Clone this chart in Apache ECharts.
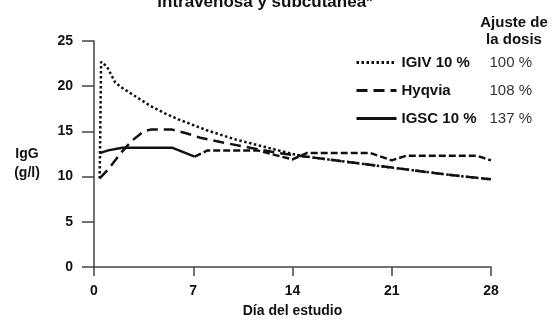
<!DOCTYPE html>
<html>
<head>
<meta charset="utf-8">
<script src="https://cdn.jsdelivr.net/npm/echarts@6/dist/echarts.min.js"></script>
<style>
  html, body { margin: 0; padding: 0; background: #fff; }
  #chart { width: 552px; height: 320px; }
</style>
</head>
<body>
<div id="chart"></div>
<script>
// niveles de IgG por día del estudio
var seriesNames = ['IGIV 10 %', 'Hyqvia', 'IGSC 10 %'];
var dosePct = ['100 %', '108 %', '137 %'];
var xTicks = [0, 7, 14, 21, 28];

var igivData = [[0.4, 9.8], [0.5, 22.7], [0.9, 22.2], [1.5, 20.4], [2, 19.8], [3, 18.8], [4, 17.8],
  [5, 17.0], [6, 16.3], [7, 15.7], [8, 15.1], [9, 14.6], [10, 14.1], [11, 13.7], [12, 13.3],
  [13, 12.9], [14, 12.5], [15, 12.2], [17, 11.8], [19, 11.4], [21, 11.0], [23, 10.6], [25, 10.2], [28, 9.7]];
var hyqviaData = [[0.4, 9.8], [1, 10.8], [1.5, 11.8], [2, 12.8], [2.7, 14.0], [3.5, 15.0], [4, 15.2],
  [5.5, 15.2], [6.5, 14.8], [7.5, 14.3], [9, 13.8], [11, 13.2], [13, 12.6], [14, 12.4], [15, 12.2],
  [17, 11.8], [19, 11.4], [21, 11.0], [23, 10.6], [25, 10.2], [28, 9.7]];
// IGSC: tramo continuo hasta el día 7, luego trazo discontinuo
var igscData1 = [[0.4, 12.6], [1, 12.9], [2, 13.2], [5.5, 13.2], [7.1, 12.2]];
var igscData2 = [[7.1, 12.2], [8, 12.9], [11.5, 12.9], [14, 11.9], [15, 12.6], [19.5, 12.6],
  [21, 11.8], [22, 12.3], [27, 12.3], [28, 11.8]];

var font = 'Liberation Sans, Arial, sans-serif';
var chart = echarts.init(document.getElementById('chart'));

function lineSeries(name, data, type) {
  return {
    name: name,
    type: 'line',
    data: data,
    symbol: 'none',
    silent: true,
    lineStyle: { color: '#111', width: 2.5, type: type, cap: 'butt' },
    itemStyle: { color: '#111' }
  };
}

var option = {
  animation: false,
  grid: { left: 94, right: 61, top: 41, bottom: 53, outerBoundsMode: 'none' },
  legend: {
    data: seriesNames,
    orient: 'vertical',
    left: 350,
    top: 50,
    itemWidth: 40,
    itemHeight: 14,
    itemGap: 13,
    selectedMode: false,
    itemStyle: { opacity: 0 },
    lineStyle: { width: 3 },
    formatter: function (name) {
      return '{n|' + name + '}{p|' + dosePct[seriesNames.indexOf(name)] + '}';
    },
    textStyle: {
      fontFamily: font,
      rich: {
        n: { fontFamily: font, fontWeight: 'bold', fontSize: 15, color: '#111', width: 88 },
        p: { fontFamily: font, fontSize: 15, color: '#333' }
      }
    }
  },
  xAxis: {
    type: 'value',
    min: 0,
    max: 28,
    interval: 7,
    name: 'Día del estudio',
    nameLocation: 'middle',
    nameGap: 37,
    nameTextStyle: { fontFamily: font, fontWeight: 'bold', fontSize: 14, color: '#111' },
    splitLine: { show: false },
    axisLine: { lineStyle: { color: '#444', width: 1.5 } },
    axisTick: { length: 9, lineStyle: { color: '#444', width: 1.5 } },
    axisLabel: {
      margin: 17, fontFamily: font, fontWeight: 'bold', fontSize: 14, color: '#111',
      formatter: function (v) { return xTicks.indexOf(v) >= 0 ? v : ''; }
    }
  },
  yAxis: {
    type: 'value',
    min: 0,
    max: 25,
    interval: 5,
    splitLine: { show: false },
    axisLine: { show: true, lineStyle: { color: '#444', width: 1.5 } },
    axisTick: { show: true, length: 12, lineStyle: { color: '#444', width: 1.5 } },
    axisLabel: { margin: 21, fontFamily: font, fontWeight: 'bold', fontSize: 14, color: '#111' }
  },
  graphic: [
    {
      type: 'text', x: 265, y: 2,
      style: { text: 'intravenosa y subcutánea*', align: 'center', verticalAlign: 'middle',
        fontFamily: 'Liberation Sans Narrow, Liberation Sans, sans-serif', fontWeight: 'bold', fontSize: 17, fill: '#111' }
    },
    {
      type: 'text', x: 514, y: 14,
      style: { text: 'Ajuste de\nla dosis', align: 'center', verticalAlign: 'top', lineHeight: 17,
        fontFamily: font, fontWeight: 'bold', fontSize: 15, fill: '#111' }
    },
    {
      type: 'text', x: 27, y: 145,
      style: { text: 'IgG\n(g/l)', align: 'center', verticalAlign: 'top', lineHeight: 19,
        fontFamily: font, fontWeight: 'bold', fontSize: 14, fill: '#111' }
    }
  ],
  series: [
    lineSeries(seriesNames[0], igivData, [2.5, 2.5]),
    lineSeries(seriesNames[1], hyqviaData, [11, 6]),
    lineSeries(seriesNames[2], igscData1, 'solid'),
    lineSeries(seriesNames[2], igscData2, [7, 3])
  ]
};
chart.setOption(option);
</script>
</body>
</html>
